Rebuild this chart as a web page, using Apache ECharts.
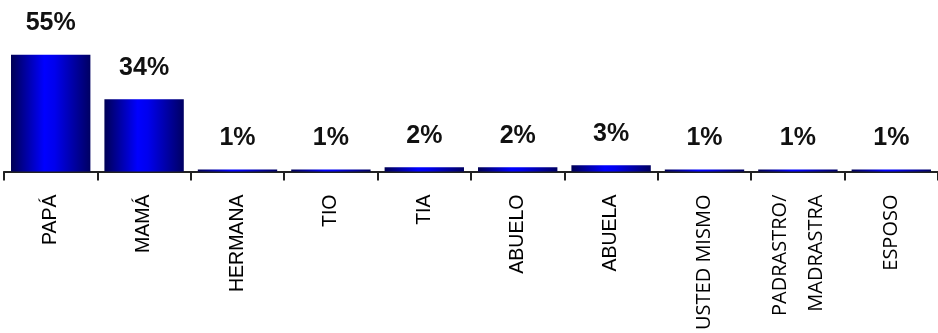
<!DOCTYPE html>
<html>
<head>
<meta charset="utf-8">
<script src="https://cdn.jsdelivr.net/npm/echarts@6/dist/echarts.min.js"></script>
<style>
html,body{margin:0;padding:0;background:#fff;}
#chart{width:938px;height:333px;}
</style>
</head>
<body>
<div id="chart"></div>
<script>
const categories = ['PAPÁ','MAMÁ','HERMANA','TIO','TIA','ABUELO','ABUELA','USTED MISMO','PADRASTRO/\nMADRASTRA','ESPOSO'];
const values = [55, 34, 1, 1, 2, 2, 3, 1, 1, 1];
const valueLabels = ['55%','34%','1%','1%','2%','2%','3%','1%','1%','1%'];
// categories drawn in a Calibri-like face in the original
const altFontCats = ['USTED MISMO','PADRASTRO/\nMADRASTRA','ESPOSO'];

const arialFont = "'Liberation Sans', Arial, sans-serif";
const altFont = "'Open Sans', 'Noto Sans', sans-serif";

const chart = echarts.init(document.getElementById('chart'), null, {renderer:'canvas'});

const catData = categories.map(c => {
  const alt = altFontCats.indexOf(c) >= 0;
  return {
    value: c,
    textStyle: {
      fontFamily: alt ? altFont : arialFont,
      fontSize: alt ? 20 : 19.5,
      fontWeight: alt ? 500 : 'normal',
      lineHeight: alt ? 36 : 22
    }
  };
});

const barGradient = new echarts.graphic.LinearGradient(0, 0, 1, 0, [
  {offset: 0, color: '#000055'},
  {offset: 0.42, color: '#0000ff'},
  {offset: 0.55, color: '#0000ee'},
  {offset: 1, color: '#000062'}
]);

chart.setOption({
  animation: false,
  backgroundColor: '#ffffff',
  grid: {left: 4, right: 0, top: 44, bottom: 158, containLabel: false},
  xAxis: {
    type: 'category',
    data: catData,
    boundaryGap: true,
    axisLine: {show: true, lineStyle: {color: '#222222', width: 2}},
    axisTick: {show: true, alignWithLabel: false, length: 9, lineStyle: {color: '#222222', width: 2}},
    axisLabel: {
      rotate: 90,
      margin: 23,
      color: '#000000',
      interval: 0,
      fontSize: 19.5,
      fontFamily: arialFont
    }
  },
  yAxis: {
    type: 'value',
    min: 0,
    max: 60,
    show: false,
    splitLine: {show: false}
  },
  series: [{
    type: 'bar',
    data: values,
    barCategoryGap: '15%',
    itemStyle: {color: barGradient},
    label: {
      show: true,
      position: 'top',
      distance: 19,
      color: '#111111',
      fontSize: 25,
      fontWeight: 'bold',
      fontFamily: arialFont,
      formatter: p => valueLabels[p.dataIndex]
    }
  }]
});
</script>
</body>
</html>
